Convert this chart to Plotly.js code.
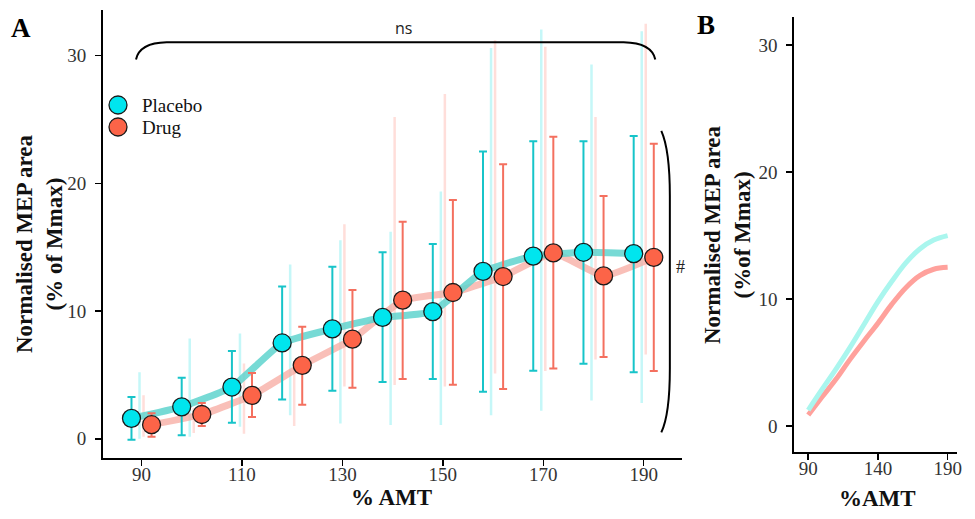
<!DOCTYPE html>
<html>
<head>
<meta charset="utf-8">
<script src="https://cdn.plot.ly/plotly-3.0.1.min.js"></script>
<style>html,body{margin:0;padding:0;background:#fff;}#chart{width:975px;height:519px;}</style>
</head>
<body>
<div id="chart"></div>
<script>
// ---------- DATA ----------
const xPlacebo = [88, 98, 108, 118, 128, 138, 148, 158, 168, 178, 188];
const xDrug    = [92, 102, 112, 122, 132, 142, 152, 162, 172, 182, 192];
const xViolin  = [90, 100, 110, 120, 130, 140, 150, 160, 170, 180, 190];

const placeboMean  = [1.6, 2.5, 4.05, 7.5, 8.6, 9.5, 9.95, 13.1, 14.3, 14.6, 14.5];
const placeboUpper = [3.27, 4.78, 6.87, 11.93, 13.47, 14.6, 15.25, 22.5, 23.3, 23.3, 23.7];
const placeboLower = [-0.08, 0.27, 1.25, 3.08, 3.76, 4.44, 4.67, 3.68, 5.33, 5.87, 5.2];

const drugMean  = [1.1, 1.9, 3.4, 5.75, 7.8, 10.85, 11.45, 12.7, 14.55, 12.75, 14.2];
const drugUpper = [2.0, 2.8, 5.15, 8.77, 11.65, 17.0, 18.7, 21.5, 23.65, 19.0, 23.1];
const drugLower = [0.16, 1.0, 1.7, 2.66, 4.0, 4.67, 4.23, 3.9, 5.5, 6.4, 5.3];

// faint distribution (violin) extents
const placeboVioMin = [0.0, 0.15, 0.95, 1.85, 1.2, 1.07, 1.07, 1.85, 2.2, 3.0, 2.8];
const placeboVioMax = [5.2, 7.85, 8.25, 13.65, 15.55, 16.2, 19.35, 30.6, 32.05, 29.3, 31.9];
const drugVioMin    = [0.15, 0.45, 0.4, 1.0, 4.1, 4.2, 4.1, 5.1, 5.3, 6.2, 6.6];
const drugVioMax    = [3.4, 2.4, 5.9, 5.6, 16.8, 25.2, 27.0, 31.2, 30.7, 25.2, 32.5];

// panel B fitted curves
const fitX       = [90, 100, 110, 120, 130, 140, 150, 160, 170, 180, 190];
const placeboFit = [1.26, 2.9, 4.5, 6.2, 8.0, 9.8, 11.4, 12.85, 13.95, 14.65, 15.0];
const drugFit    = [0.87, 2.3, 3.7, 5.25, 6.7, 8.1, 9.6, 10.9, 11.85, 12.35, 12.5];

const groupNames = ["Placebo", "Drug"];
const tickA = [90, 110, 130, 150, 170, 190];
const tickB = [90, 140, 190];
const tickY = [0, 10, 20, 30];

// ---------- STYLE ----------
const C = {
  pFill: "#00E5EE", dFill: "#FC6448",
  pErr: "#17C4C9", dErr: "#F4705F",
  pLine: "rgba(95,212,206,0.85)", dLine: "rgba(247,170,160,0.75)",
  pVio: "rgba(150,240,242,0.55)", dVio: "rgba(255,190,182,0.5)",
  pFit: "#AAF6EE", dFit: "#FFA19C"
};
const serif = "Liberation Serif, Times New Roman, serif";

const traces = [];
function vioTrace(xs, mins, maxs, off, color) {
  const x = [], y = [];
  xs.forEach((v, i) => { x.push(v + off, v + off, null); y.push(mins[i], maxs[i], null); });
  return {x, y, type: "scatter", mode: "lines", line: {color, width: 2.5}, hoverinfo: "skip", showlegend: false, xaxis: "x", yaxis: "y"};
}
traces.push(vioTrace(xViolin, placeboVioMin, placeboVioMax, -0.4, C.pVio));
traces.push(vioTrace(xViolin, drugVioMin, drugVioMax, 0.4, C.dVio));

traces.push({x: xDrug, y: drugMean, type: "scatter", mode: "lines", line: {color: C.dLine, width: 7, shape: "spline", smoothing: 0.4}, showlegend: false, hoverinfo: "skip"});
traces.push({x: xPlacebo, y: placeboMean, type: "scatter", mode: "lines", line: {color: C.pLine, width: 7, shape: "spline", smoothing: 0.4}, showlegend: false, hoverinfo: "skip"});

function markerTrace(name, xs, mean, up, lo, fill, errC) {
  return {
    name, x: xs, y: mean, type: "scatter", mode: "markers", showlegend: false,
    marker: {size: 18, color: fill, line: {color: "#1a1a1a", width: 1.3}},
    error_y: {type: "data", symmetric: false,
      array: up.map((u, i) => u - mean[i]), arrayminus: lo.map((l, i) => mean[i] - l),
      color: errC, thickness: 2, width: 4},
    xaxis: "x", yaxis: "y"
  };
}
traces.push(markerTrace(groupNames[0], xPlacebo, placeboMean, placeboUpper, placeboLower, C.pFill, C.pErr));
traces.push(markerTrace(groupNames[1], xDrug, drugMean, drugUpper, drugLower, C.dFill, C.dErr));

traces.push({x: fitX, y: drugFit, type: "scatter", mode: "lines", line: {color: C.dFit, width: 5, shape: "spline"}, showlegend: false, xaxis: "x2", yaxis: "y2"});
traces.push({x: fitX, y: placeboFit, type: "scatter", mode: "lines", line: {color: C.pFit, width: 5, shape: "spline"}, showlegend: false, xaxis: "x2", yaxis: "y2"});

const W = 975, H = 519;
const px = v => v / W, py = v => 1 - v / H;

const axBase = {
  showgrid: false, zeroline: false, showline: true, linecolor: "#000", linewidth: 2,
  ticks: "outside", ticklen: 6, tickwidth: 1.5, tickcolor: "#000",
  tickfont: {family: serif, size: 19, color: "#333"}, fixedrange: true
};
const xAx = Object.assign({}, axBase, {ticklabelstandoff: -8});
const yAx = Object.assign({}, axBase, {ticklabelstandoff: 5});

// manual legend
const legendItems = [
  {name: groupNames[0], color: C.pFill, y: 105},
  {name: groupNames[1], color: C.dFill, y: 127}
];
const legendShapes = legendItems.map(it => ({
  type: "circle", xref: "paper", yref: "paper", xsizemode: "pixel", ysizemode: "pixel",
  xanchor: px(118), yanchor: py(it.y), x0: -9, x1: 9, y0: -9, y1: 9,
  fillcolor: it.color, line: {color: "#1a1a1a", width: 1.3}, layer: "above"
}));
const legendAnn = legendItems.map(it => ({
  text: it.name, xref: "paper", yref: "paper", x: px(140), y: py(it.y), xanchor: "left", yanchor: "middle",
  showarrow: false, font: {family: serif, size: 19, color: "#111"}
}));

const layout = {
  width: W, height: H, margin: {l: 0, r: 0, t: 0, b: 0},
  paper_bgcolor: "#fff", plot_bgcolor: "rgba(0,0,0,0)",
  showlegend: false,
  xaxis: Object.assign({}, xAx, {domain: [px(103), px(681.7)], range: [82.33, 197.56], tickvals: tickA, anchor: "y"}),
  yaxis: Object.assign({}, yAx, {domain: [py(458.3), py(10)], range: [-1.53, 33.57], tickvals: tickY, anchor: "x"}),
  xaxis2: Object.assign({}, xAx, {domain: [px(794.3), px(956.7)], range: [80.0, 196.5], tickvals: tickB, anchor: "y2"}),
  yaxis2: Object.assign({}, yAx, {domain: [py(452.3), py(17.3)], range: [-2.07, 32.2], tickvals: tickY, anchor: "x2"}),
  shapes: [
    {type: "path", xref: "x", yref: "y", layer: "above",
     path: "M 88.9,29.7 Q 89.6,31.0 95,31.05 L 186,31.05 Q 191.6,31.0 192.3,29.7",
     line: {color: "#000", width: 2}},
    {type: "path", xref: "x", yref: "y", layer: "above",
     path: "M 193.5,24.1 Q 195.2,22.6 195.2,19 L 195.2,5.5 Q 195.2,1.9 193.5,0.5",
     line: {color: "#000", width: 2}}
  ].concat(legendShapes),
  annotations: [
    {text: "ns", xref: "paper", yref: "paper", x: px(403), y: py(28), showarrow: false, xanchor: "center", yanchor: "middle",
     font: {family: "Open Sans, DejaVu Sans, sans-serif", size: 16, color: "#222"}},
    {text: "#", xref: "paper", yref: "paper", x: px(680), y: py(267), showarrow: false, xanchor: "center", yanchor: "middle",
     font: {family: serif, size: 18, color: "#222"}},
    {text: "<b>A</b>", xref: "paper", yref: "paper", x: px(21), y: py(28), showarrow: false, xanchor: "center", yanchor: "middle",
     font: {family: serif, size: 27, color: "#000"}},
    {text: "<b>B</b>", xref: "paper", yref: "paper", x: px(706), y: py(25), showarrow: false, xanchor: "center", yanchor: "middle",
     font: {family: serif, size: 27, color: "#000"}},
    {text: "<b>Normalised MEP area<br>(% of Mmax)</b>", xref: "paper", yref: "paper", x: px(39), y: py(244), textangle: -90,
     showarrow: false, xanchor: "center", yanchor: "middle", font: {family: serif, size: 23, color: "#111"}},
    {text: "<b>Normalised MEP area<br>(%of Mmax)</b>", xref: "paper", yref: "paper", x: px(727), y: py(235), textangle: -90,
     showarrow: false, xanchor: "center", yanchor: "middle", font: {family: serif, size: 23, color: "#111"}},
    {text: "<b>% AMT</b>", xref: "paper", yref: "paper", x: px(391), y: py(497), showarrow: false, xanchor: "center", yanchor: "middle",
     font: {family: serif, size: 23, color: "#111"}},
    {text: "<b>%AMT</b>", xref: "paper", yref: "paper", x: px(877), y: py(498), showarrow: false, xanchor: "center", yanchor: "middle",
     font: {family: serif, size: 23, color: "#111"}}
  ].concat(legendAnn)
};

Plotly.newPlot("chart", traces, layout, {displayModeBar: false, staticPlot: true});
</script>
</body>
</html>
